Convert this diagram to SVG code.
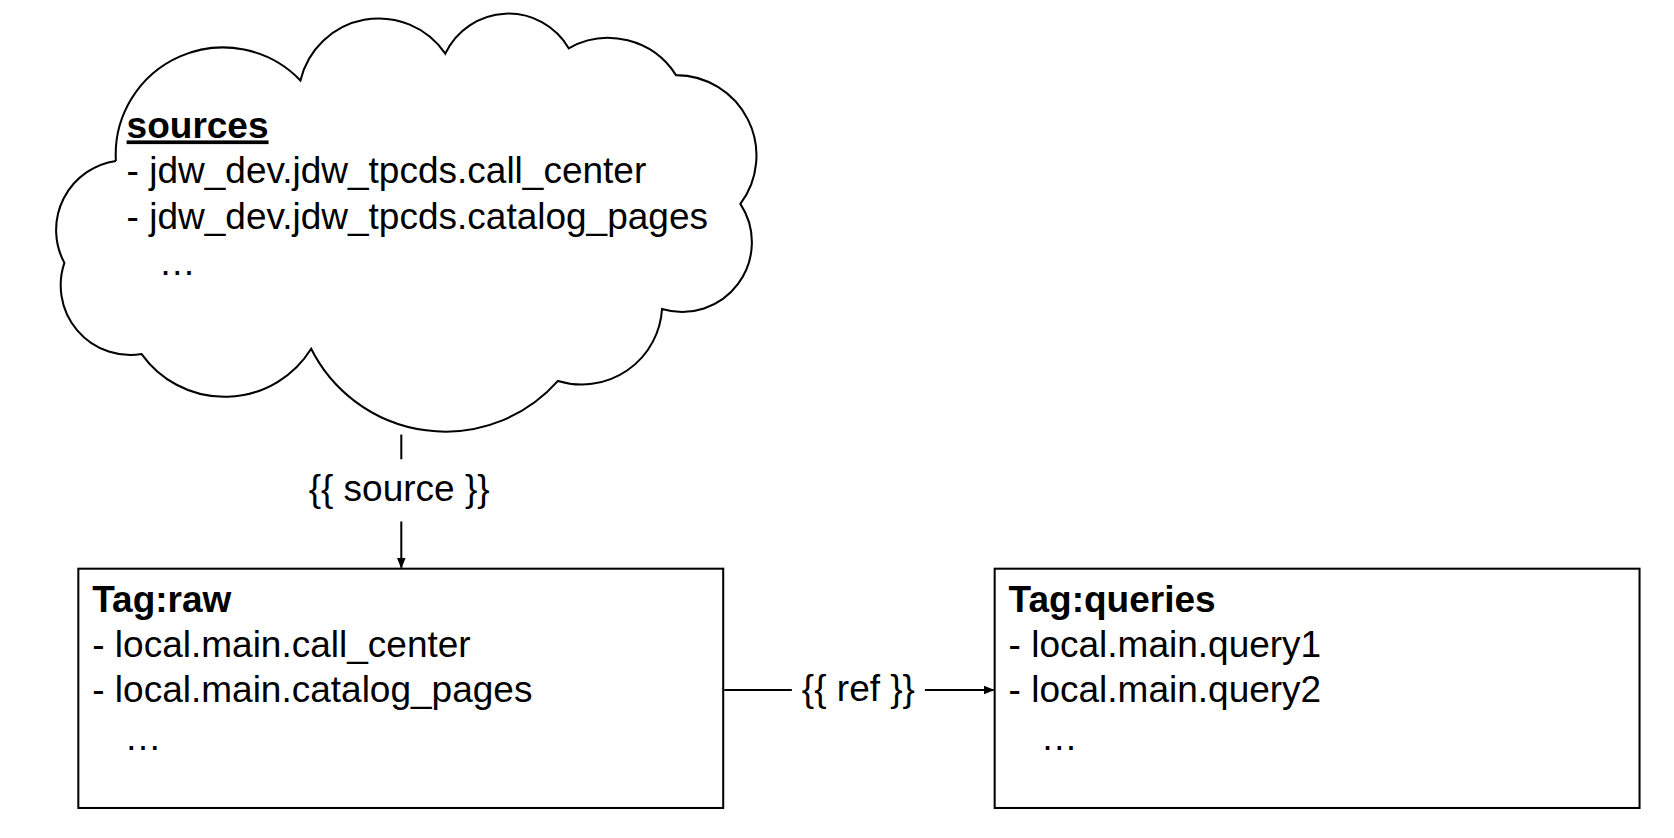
<svg xmlns="http://www.w3.org/2000/svg" width="1674" height="838" viewBox="0 0 1674 838">
<defs>
<style>
text{font-family:"Liberation Sans",Arial,sans-serif;font-size:34.5px;fill:#000}
.b{font-weight:bold}
.s{fill:none;stroke:#000;stroke-width:1.9}
.box{fill:#fff;stroke:#000;stroke-width:1.9}
</style>
<marker id="ar" markerWidth="10" markerHeight="10" refX="9" refY="5" orient="auto" markerUnits="userSpaceOnUse"><path d="M0,1 L10,5 L0,9 Z" fill="#000"/></marker>
</defs>
<rect width="1674" height="838" fill="#fff"/>
<g transform="scale(1.073)">
<g id="sources">
<path class="s" d="M108,150 A100,100 0 0 1 280,75 A75,75 0 0 1 415,50 A65,65 0 0 1 530,45 A75,75 0 0 1 630,70 A75,75 0 0 1 690,190 A65,65 0 0 1 617,288 A75,75 0 0 1 520,355 A140,140 0 0 1 290,325 A95,95 0 0 1 132,330 A65,65 0 0 1 60,245 A65,65 0 0 1 108,150"/>
<text x="118" y="129" class="b" text-decoration="underline">sources</text>
<text x="118" y="171">- jdw_dev.jdw_tpcds.call_center</text>
<text x="118" y="213">- jdw_dev.jdw_tpcds.catalog_pages</text>
<text x="148" y="256">…</text>
</g>
<g id="raw">
<rect class="box" x="73" y="530" width="601" height="223"/>
<text x="86" y="570" class="b">Tag:raw</text>
<text x="86" y="612">- local.main.call_center</text>
<text x="86" y="654">- local.main.catalog_pages</text>
<text x="116" y="699">…</text>
</g>
<g id="queries">
<rect class="box" x="927" y="530" width="601" height="223"/>
<text x="940" y="570" class="b">Tag:queries</text>
<text x="940" y="612">- local.main.query1</text>
<text x="940" y="654">- local.main.query2</text>
<text x="970" y="699">…</text>
</g>
<g id="connectors">
<line class="s" x1="374" y1="405" x2="374" y2="428"/>
<line class="s" x1="374" y1="486" x2="374" y2="529" marker-end="url(#ar)"/>
<text x="372" y="467" text-anchor="middle">{{ source }}</text>
<line class="s" x1="675" y1="643" x2="738" y2="643"/>
<line class="s" x1="862" y1="643" x2="926" y2="643" marker-end="url(#ar)"/>
<text x="800" y="653" text-anchor="middle">{{ ref }}</text>
</g>
</g>
</svg>
